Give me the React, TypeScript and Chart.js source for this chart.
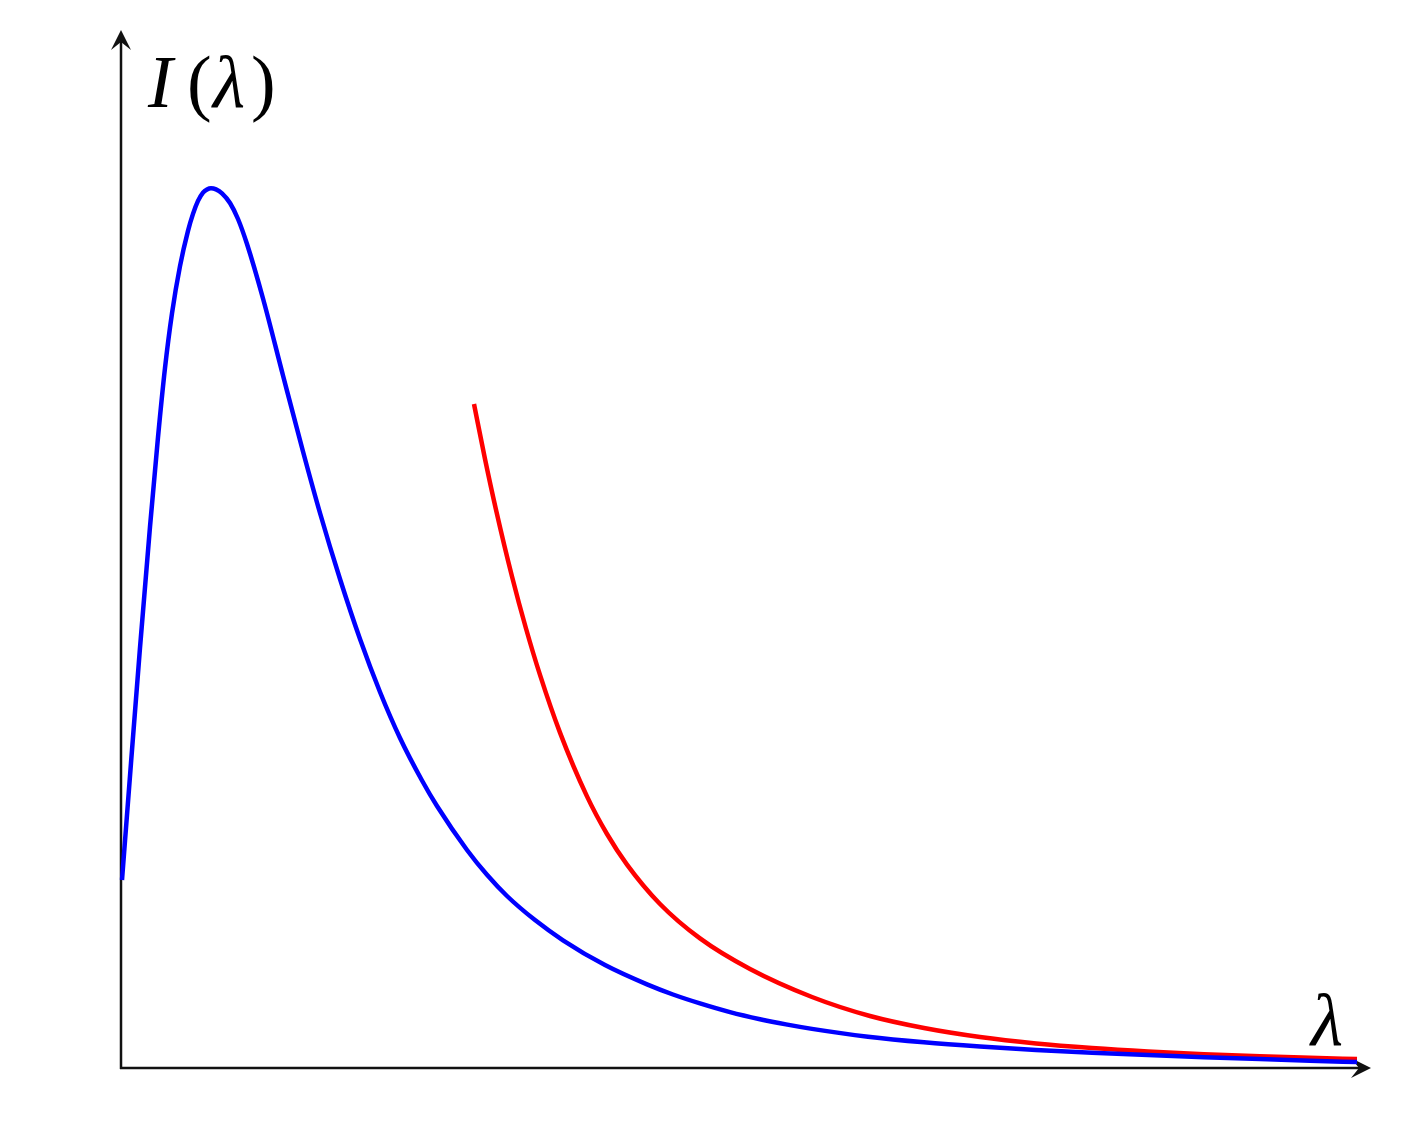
import React, { useEffect, useRef } from "react";
import { Chart, registerables } from "chart.js";

Chart.register(...registerables);

// Wavelength (arbitrary units) and intensity (arbitrary units)
const blueLambda = [0.01, 0.1, 0.19, 0.29, 0.37, 0.44, 0.51, 0.59, 0.67, 0.72, 0.77, 0.82, 0.86, 0.9, 0.95, 1.01, 1.09, 1.17, 1.26, 1.42, 1.62, 1.82, 1.99, 2.19, 2.39, 2.59, 2.79, 3.01, 3.16, 3.46, 3.66, 3.86, 4.14, 4.42, 4.84, 5.26, 5.52, 5.79, 6.09, 6.39, 6.65, 6.91, 7.47, 8.03, 8.59, 9.15, 9.71, 10.27, 10.83, 11.39, 11.89, 12.36];
const blueIntensity = [1.88, 3.05, 4.202, 5.412, 6.308, 7.001, 7.547, 8.019, 8.371, 8.541, 8.671, 8.754, 8.785, 8.797, 8.786, 8.747, 8.65, 8.49, 8.24, 7.695, 6.925, 6.165, 5.55, 4.89, 4.29, 3.76, 3.3, 2.875, 2.62, 2.18, 1.932, 1.72, 1.479, 1.277, 1.029, 0.836, 0.735, 0.646, 0.559, 0.488, 0.436, 0.391, 0.313, 0.257, 0.215, 0.181, 0.153, 0.129, 0.108, 0.089, 0.073, 0.059];

const redLambda = [3.53, 3.64, 3.75, 3.91, 4.05, 4.19, 4.39, 4.66, 4.86, 5.06, 5.39, 5.79, 6.29, 6.91, 7.49, 8.03, 8.59, 9.15, 9.71, 10.27, 10.83, 11.39, 11.89, 12.36];
const redIntensity = [6.64, 6.09, 5.583, 4.915, 4.395, 3.931, 3.354, 2.716, 2.34, 2.034, 1.64, 1.296, 0.99, 0.71, 0.52, 0.4, 0.31, 0.246, 0.2, 0.165, 0.138, 0.117, 0.102, 0.089];

const xMax = 12.5;
const yMax = 10.38;

const yLabelParts = ["I", "(", "λ", ")"];
const xLabel = "λ";

const SERIF = '"Liberation Serif", "DejaVu Serif", serif';

function arrowHead(ctx: CanvasRenderingContext2D, tx: number, ty: number, dx: number, dy: number) {
  const len = 20;
  const half = 10;
  const inset = 12;
  const px = -dy;
  const py = dx;
  ctx.beginPath();
  ctx.moveTo(tx, ty);
  ctx.lineTo(tx - dx * len + px * half, ty - dy * len + py * half);
  ctx.lineTo(tx - dx * inset, ty - dy * inset);
  ctx.lineTo(tx - dx * len - px * half, ty - dy * len - py * half);
  ctx.closePath();
  ctx.fill();
}

const axesPlugin = {
  id: "arrowAxes",
  beforeDatasetsDraw(chart: any) {
    const { ctx, chartArea } = chart;
    const x0 = chart.scales.x.getPixelForValue(0);
    const y0 = chart.scales.y.getPixelForValue(0);
    ctx.save();
    ctx.strokeStyle = "#111";
    ctx.fillStyle = "#111";
    ctx.lineWidth = 2.5;
    ctx.beginPath();
    ctx.moveTo(x0, y0 + 1);
    ctx.lineTo(x0, chartArea.top + 8);
    ctx.moveTo(x0 - 1, y0);
    ctx.lineTo(chartArea.right - 8, y0);
    ctx.stroke();
    arrowHead(ctx, x0, chartArea.top, 0, -1);
    arrowHead(ctx, chartArea.right, y0, 1, 0);
    ctx.restore();
  },
  afterDraw(chart: any) {
    const { ctx, chartArea } = chart;
    ctx.save();
    ctx.fillStyle = "#000";
    ctx.textBaseline = "alphabetic";
    ctx.textAlign = "left";
    const base = chartArea.top + 77;
    const left = chartArea.left + 27;
    ctx.font = `italic 74px ${SERIF}`;
    ctx.fillText(yLabelParts[0], left, base);
    ctx.font = `74px ${SERIF}`;
    ctx.fillText(yLabelParts[1], left + 39, base);
    ctx.font = `italic 74px ${SERIF}`;
    ctx.fillText(yLabelParts[2], left + 65, base);
    ctx.font = `74px ${SERIF}`;
    ctx.fillText(yLabelParts[3], left + 103, base);
    ctx.font = `italic 74px ${SERIF}`;
    ctx.fillText(xLabel, chartArea.right - 60, chartArea.bottom - 23);
    ctx.restore();
  },
};

export default function App() {
  const canvasRef = useRef<HTMLCanvasElement | null>(null);

  useEffect(() => {
    if (!canvasRef.current) return;
    const chart = new Chart(canvasRef.current, {
      type: "line",
      data: {
        datasets: [
          {
            label: "blue",
            data: blueLambda.map((x, i) => ({ x, y: blueIntensity[i] })),
            borderColor: "#0000ff",
            borderWidth: 4.5,
            pointRadius: 0,
            cubicInterpolationMode: "monotone",
            borderCapStyle: "butt",
            borderJoinStyle: "round",
            clip: false as any,
          },
          {
            label: "red",
            data: redLambda.map((x, i) => ({ x, y: redIntensity[i] })),
            borderColor: "#ff0000",
            borderWidth: 4.5,
            pointRadius: 0,
            cubicInterpolationMode: "monotone",
            borderCapStyle: "butt",
            borderJoinStyle: "round",
            clip: false as any,
          },
        ],
      },
      options: {
        animation: false,
        responsive: true,
        maintainAspectRatio: false,
        layout: { padding: { left: 121, right: 51, top: 30, bottom: 65 } },
        plugins: { legend: { display: false }, tooltip: { enabled: false } },
        scales: {
          x: { type: "linear", min: 0, max: xMax, display: false },
          y: { type: "linear", min: 0, max: yMax, display: false },
        },
      },
      plugins: [axesPlugin],
    });
    return () => chart.destroy();
  }, []);

  return (
    <div style={{ position: "absolute", left: 0, top: 0, width: 1422, height: 1133, background: "#fff" }}>
      <canvas ref={canvasRef} />
    </div>
  );
}
